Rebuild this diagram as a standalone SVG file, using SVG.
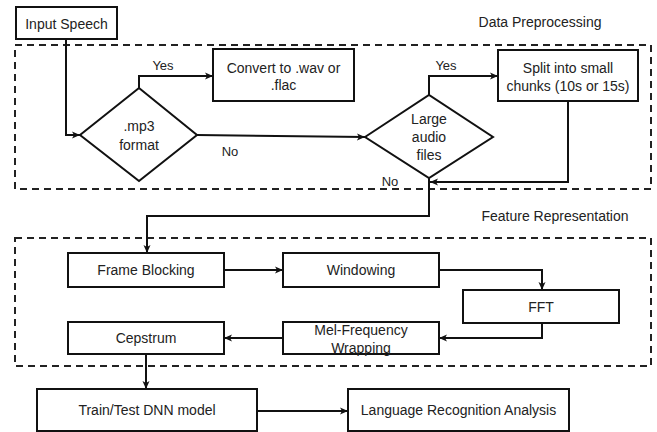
<svg xmlns="http://www.w3.org/2000/svg" width="657" height="432" viewBox="0 0 657 432">
<defs>
<marker id="arr" markerUnits="userSpaceOnUse" markerWidth="9" markerHeight="8" refX="8" refY="4" orient="auto">
<path d="M0,0.5 L8,4 L0,7.5 L2,4 z" fill="#111"/>
</marker>
<style>
.box{fill:#fff;stroke:#111;stroke-width:2}
.grp{fill:none;stroke:#222;stroke-width:2;stroke-dasharray:7 5}
.ln{fill:none;stroke:#111;stroke-width:2}
.t{font-family:"Liberation Sans",Arial,sans-serif;font-size:14px;fill:#222;text-anchor:middle}
.lbl{font-family:"Liberation Sans",Arial,sans-serif;font-size:13px;fill:#222;text-anchor:middle}
</style>
</defs>
<rect width="657" height="432" fill="#fff"/>

<g id="group-data-preprocessing">
<rect class="grp" x="15" y="45" width="636" height="144"/>
<text class="t" x="540" y="27">Data Preprocessing</text>
</g>
<g id="group-feature-representation">
<rect class="grp" x="15" y="238" width="636" height="128"/>
<text class="t" x="555" y="221">Feature Representation</text>
</g>

<g id="connectors">
<path class="ln" d="M66,39 V135 H80" marker-end="url(#arr)"/>
<path class="ln" d="M139,88 V76 H213" marker-end="url(#arr)"/>
<path class="ln" d="M197,135 L365,137" marker-end="url(#arr)"/>
<path class="ln" d="M429,95 V76 H498" marker-end="url(#arr)"/>
<path class="ln" d="M568,101 V182 H430" marker-end="url(#arr)"/>
<path class="ln" d="M429,178 V216 H147 V253" marker-end="url(#arr)"/>
<path class="ln" d="M224,270 H283" marker-end="url(#arr)"/>
<path class="ln" d="M439,270 H542 V290" marker-end="url(#arr)"/>
<path class="ln" d="M542,323 V338 H439" marker-end="url(#arr)"/>
<path class="ln" d="M283,338 H224" marker-end="url(#arr)"/>
<path class="ln" d="M146,354 V389" marker-end="url(#arr)"/>
<path class="ln" d="M257,411 H348" marker-end="url(#arr)"/>
<text class="lbl" x="163" y="70">Yes</text>
<text class="lbl" x="230" y="156">No</text>
<text class="lbl" x="446" y="70">Yes</text>
<text class="lbl" x="390" y="186">No</text>
</g>

<g id="node-input-speech">
<rect class="box" x="16" y="7" width="101" height="32"/>
<text class="t" x="66.5" y="29">Input Speech</text>
</g>
<g id="node-mp3-format">
<polygon class="box" points="80,135 139,88 197,135 139,181"/>
<text class="t" x="139" y="131">.mp3</text>
<text class="t" x="139" y="150">format</text>
</g>
<g id="node-convert">
<rect class="box" x="213" y="49" width="141" height="52"/>
<text class="t" x="283.5" y="73">Convert to .wav or</text>
<text class="t" x="283.5" y="90">.flac</text>
</g>
<g id="node-large-audio">
<polygon class="box" points="365,137 429,95 493,137 429,178"/>
<text class="t" x="429" y="124">Large</text>
<text class="t" x="429" y="142">audio</text>
<text class="t" x="429" y="160">files</text>
</g>
<g id="node-split">
<rect class="box" x="498" y="50" width="140" height="51"/>
<text class="t" x="568" y="73">Split into small</text>
<text class="t" x="568" y="91">chunks (10s or 15s)</text>
</g>
<g id="node-frame-blocking">
<rect class="box" x="68" y="253" width="156" height="34"/>
<text class="t" x="146" y="275">Frame Blocking</text>
</g>
<g id="node-windowing">
<rect class="box" x="283" y="253" width="156" height="34"/>
<text class="t" x="361" y="275">Windowing</text>
</g>
<g id="node-fft">
<rect class="box" x="463" y="290" width="156" height="33"/>
<text class="t" x="541" y="311.5">FFT</text>
</g>
<g id="node-mel">
<rect class="box" x="283" y="322" width="156" height="32"/>
<text class="t" x="361" y="335">Mel-Frequency</text>
<text class="t" x="361" y="353">Wrapping</text>
</g>
<g id="node-cepstrum">
<rect class="box" x="68" y="322" width="156" height="32"/>
<text class="t" x="146" y="343">Cepstrum</text>
</g>
<g id="node-train">
<rect class="box" x="37" y="389" width="220" height="42"/>
<text class="t" x="147" y="415">Train/Test DNN model</text>
</g>
<g id="node-language">
<rect class="box" x="348" y="389" width="221" height="42"/>
<text class="t" x="458.5" y="415">Language Recognition Analysis</text>
</g>
</svg>
